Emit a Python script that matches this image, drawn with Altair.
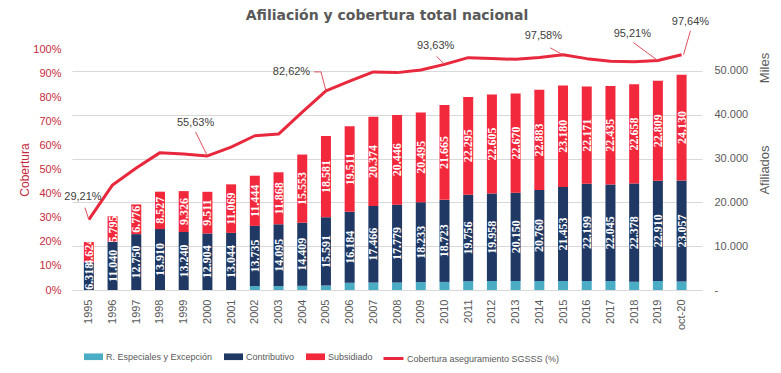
import json
import altair as alt
import pandas as pd

# ---------------- data ----------------
years = ['1995', '1996', '1997', '1998', '1999', '2000', '2001', '2002', '2003',
         '2004', '2005', '2006', '2007', '2008', '2009', '2010', '2011', '2012',
         '2013', '2014', '2015', '2016', '2017', '2018', '2019', 'oct-20']
especiales = [0, 0, 0, 0, 0, 0, 0, 900, 900, 950, 1000, 1650, 1700, 1700, 1800,
              1850, 2000, 2050, 2050, 2050, 2050, 2050, 2050, 1900, 2050, 1950]
contributivo = [6318, 11040, 12750, 13910, 13240, 12904, 13044, 13735, 14095,
                14409, 15591, 16184, 17466, 17779, 18233, 18723, 19756, 19958,
                20150, 20760, 21453, 22199, 22045, 22378, 22910, 23057]
subsidiado = [4624, 5795, 6776, 8527, 9326, 9511, 11069, 11444, 11868, 15553,
              18581, 19511, 20374, 20446, 20495, 21665, 22295, 22605, 22670,
              22883, 23180, 22171, 22435, 22658, 22809, 24130]
cobertura = [29.21, 43.6, 50.6, 57.0, 56.4, 55.63, 59.3, 64.0, 64.7, 73.8, 82.62,
             86.7, 90.5, 90.2, 91.3, 93.63, 96.4, 96.1, 95.7, 96.5, 97.58, 96.0,
             94.9, 94.7, 95.21, 97.64]
labeled_years = ['1995', '2000', '2005', '2010', '2015', '2019', 'oct-20']

series_names = ['R. Especiales y Excepción', 'Contributivo', 'Subsidiado']
line_name = 'Cobertura aseguramiento SGSSS (%)'
title_text = 'Afiliación y cobertura total nacional'

# ---------------- style / layout ----------------
W, H = 630, 241
XMAX = 25.65
STEP = W / (XMAX + 0.5)
C_LB, C_NAVY, C_RED, C_LINE = '#4BACC6', '#1F3864', '#F2283C', '#E8283C'
C_AXIS_RED = '#C42A3E'
GREY = '#595959'
SANS = 'Liberation Sans'
LEG_FONT = "'Liberation Sans Narrow', 'Arial Narrow', 'Liberation Sans'"
# label offsets (px) from the line vertex, and leader polylines (px)
label_offsets = {'1995': (-6, -23), '2000': (-12, -33), '2005': (-35, -19),
                 '2010': (-9, -18), '2015': (-20, -19), '2019': (-26, -27),
                 'oct-20': (9, -33)}
leader_paths = {'1995': [(-4, -12), (0, 0)], '2000': [(-12, -24), (0, 0)],
                '2005': [(-12, -19), (-5, -19), (0, 0)], '2010': [(-8, -8), (0, 0)],
                '2015': [(-13, -7), (0, 0)], '2019': [(-25, -18), (0, 0)],
                'oct-20': [(9, -24), (2, 0)]}

# ---------------- tables ----------------
rows = []
for i, y in enumerate(years):
    for o, (name, vals) in enumerate(zip(series_names, [especiales, contributivo, subsidiado])):
        rows.append({'i': i, 'year': y, 'tipo': name, 'ord': o, 'valor': vals[i]})
bar_df = pd.DataFrame(rows)

cov_df = pd.DataFrame({'i': list(range(len(years))), 'year': years,
                       'cov': [c / 100 for c in cobertura], 'serie': line_name})

lab_rows, lead_rows = [], []
for y in labeled_years:
    i = years.index(y)
    c = cobertura[i] / 100
    dx, dy = label_offsets[y]
    lab_rows.append({'i': i + dx / STEP, 'cov': c - dy / H,
                     'txt': ('%.2f%%' % cobertura[i]).replace('.', ',')})
    for k, (px, py) in enumerate(leader_paths[y]):
        lead_rows.append({'k': y, 'o': k, 'i': i + px / STEP, 'cov': c - py / H})
lab_df = pd.DataFrame(lab_rows)
lead_df = pd.DataFrame(lead_rows)

label_expr = json.dumps(years) + '[datum.value]'

# ---------------- shared scales / axes ----------------
x_scale = alt.Scale(domain=[-0.5, XMAX], nice=False, zero=False)
x_axis = alt.Axis(values=list(range(len(years))), labelExpr=label_expr,
                  labelAngle=270, grid=False, ticks=False, domain=True,
                  domainColor='#D9D9D9', labelPadding=9, labelFlush=False,
                  labelOverlap=False, labelFont=SANS, labelFontSize=11,
                  labelColor=GREY, title=None)

bar_scale = alt.Scale(domain=[0, 55000], nice=False)
bar_axis = alt.Axis(orient='right', values=[0, 10000, 20000, 30000, 40000, 50000],
                    labelExpr="datum.value == 0 ? ' -' : replace(format(datum.value, ','), ',', '.')",
                    title='Afiliados', titleAngle=270, titleBaseline='top', titleFont=SANS,
                    titleFontSize=13, titleFontWeight='normal', titleColor=GREY,
                    titlePadding=11, grid=True, gridColor='#D9D9D9', domain=False,
                    ticks=False, labelPadding=12, labelFont=SANS,
                    labelFontSize=11, labelColor=GREY)

cov_scale = alt.Scale(domain=[0, 1], nice=False)
cov_axis = alt.Axis(orient='left', values=[i / 10 for i in range(11)], format='.0%',
                    title='Cobertura', titleFont=SANS, titleFontSize=12,
                    titleFontWeight='normal', titleColor=C_AXIS_RED,
                    titleAngle=270, titleX=-48, titleY=H / 2, titleAlign='center',
                    titleBaseline='middle',
                    grid=False, domain=False, ticks=False, labelPadding=11,
                    labelFont=SANS, labelFontSize=11, labelColor=C_AXIS_RED)


def X(field):
    return alt.X(field, scale=x_scale, axis=x_axis)


# ---------------- layers ----------------
bars = alt.Chart(bar_df).mark_bar(size=10).encode(
    x=X('i:Q'),
    y=alt.Y('valor:Q', stack='zero', scale=bar_scale, axis=bar_axis),
    color=alt.Color('tipo:N', scale=alt.Scale(domain=series_names, range=[C_LB, C_NAVY, C_RED]),
                    legend=alt.Legend(title=None, orient='none', legendX=12, legendY=298,
                                      direction='horizontal',
                                      symbolType='M-1,-0.35L1,-0.35L1,0.35L-1,0.35Z',
                                      symbolSize=361, symbolStrokeWidth=0, symbolOpacity=1,
                                      labelFont=LEG_FONT, labelFontSize=9,
                                      labelColor=GREY, labelOffset=3, columnPadding=11,
                                      padding=0)),
    order=alt.Order('ord:Q', sort='ascending'),
)

bar_text = alt.Chart(bar_df).transform_stack(
    stack='valor', groupby=['i'], as_=['v0', 'v1'],
    sort=[alt.SortField('ord', order='ascending')]
).transform_filter('datum.ord > 0').transform_calculate(
    mid='(datum.v0 + datum.v1) / 2',
    txt="replace(format(datum.valor, ','), ',', '.')"
).mark_text(angle=270, color='white', font='Liberation Serif', fontWeight='bold',
            fontSize=12, align='center', baseline='middle').encode(
    x=X('i:Q'),
    y=alt.Y('mid:Q', scale=bar_scale, axis=bar_axis),
    text='txt:N',
)

line = alt.Chart(cov_df).mark_line(strokeWidth=3, strokeJoin='round').encode(
    x=X('i:Q'),
    y=alt.Y('cov:Q', scale=cov_scale, axis=cov_axis),
    stroke=alt.Stroke('serie:N', scale=alt.Scale(domain=[line_name], range=[C_LINE]),
                      legend=alt.Legend(title=None, orient='none', legendX=310, legendY=298,
                                        symbolType='M-1,0L1,0', symbolSize=400,
                                        symbolStrokeWidth=3,
                                        labelFont=LEG_FONT, labelFontSize=9,
                                        labelColor=GREY, labelOffset=2, padding=0)),
)

leaders = alt.Chart(lead_df).mark_line(strokeWidth=1, color='#E0505E').encode(
    x=X('i:Q'),
    y=alt.Y('cov:Q', scale=cov_scale, axis=cov_axis),
    detail='k:N',
    order='o:Q',
)

labels = alt.Chart(lab_df).mark_text(font=SANS, fontSize=11, color='#404040',
                                     align='center', baseline='middle').encode(
    x=X('i:Q'),
    y=alt.Y('cov:Q', scale=cov_scale, axis=cov_axis),
    text='txt:N',
)

miles = alt.Chart(pd.DataFrame({'t': ['Miles']})).mark_text(
    angle=270, font=SANS, fontSize=13, color=GREY,
    align='center', baseline='middle').encode(
    x=alt.value(W + 63), y=alt.value(19), text='t:N')

title = alt.Chart(pd.DataFrame({'t': [title_text]})).mark_text(
    font='DejaVu Sans', fontSize=14, fontWeight='bold', color=GREY,
    align='center', baseline='middle').encode(
    x=alt.value(W / 2), y=alt.value(-33), text='t:N')

right = alt.layer(bars, bar_text)
left = alt.layer(line, leaders, labels)

chart = alt.layer(right, left, miles, title).resolve_scale(
    y='independent', color='independent', stroke='independent'
).properties(
    width=W, height=H,
    autosize=alt.AutoSizeParams(type='none'),
    padding={'left': 64, 'top': 41, 'right': 71, 'bottom': 75},
    background='white',
).configure_view(stroke=None)

chart.save('out.html', embed_options={'renderer': 'svg', 'actions': False})
